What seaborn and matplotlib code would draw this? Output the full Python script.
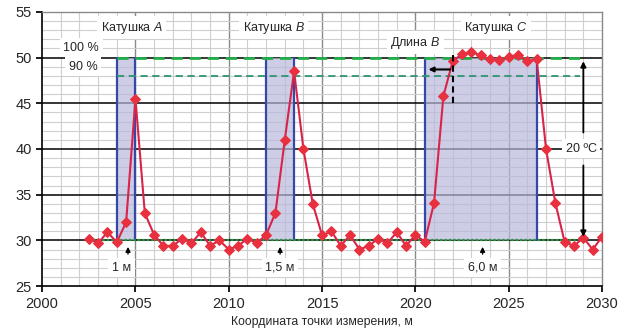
import numpy as np
import pandas as pd
import matplotlib
matplotlib.use("Agg")
import matplotlib.pyplot as plt
import seaborn as sns

# ---- data ----
positions = [2002.5 + 0.5 * i for i in range(56)]
temps = [30.2, 29.7, 30.9, 29.8, 32.0, 45.5, 33.0, 30.6, 29.4, 29.4,
         30.2, 29.7, 30.9, 29.4, 30.0, 29.0, 29.4, 30.2, 29.7, 30.6,
         33.0, 41.0, 48.5, 40.0, 34.0, 30.55, 31.0, 29.4, 30.6, 29.0,
         29.4, 30.2, 29.7, 30.9, 29.4, 30.6, 29.85, 34.1, 45.8, 49.6,
         50.4, 50.6, 50.25, 49.8, 49.7, 50.1, 50.3, 49.6, 49.8, 40.0,
         34.1, 29.8, 29.4, 30.3, 29.0, 30.4]
coil_names = ["A", "B", "C"]
coil_start = [2004.0, 2012.0, 2020.5]
coil_end = [2005.0, 2013.5, 2026.5]
coil_label_x = [2004.8, 2012.4, 2024.3]
width_labels = ["1 м", "1,5 м", "6,0 м"]
width_label_x = [2004.6, 2012.75, 2023.6]
level_100 = 50
level_90 = 48
level_base = 30

df = pd.DataFrame({"x": positions, "t": temps})

sns.set_theme(style="white")
plt.rcParams["font.family"] = ["Liberation Sans", "DejaVu Sans"]
plt.rcParams["mathtext.fontset"] = "custom"
plt.rcParams["mathtext.it"] = "Liberation Sans:italic"
plt.rcParams["mathtext.rm"] = "Liberation Sans"

fig = plt.figure(figsize=(6.2, 3.3), dpi=100)
fig.patch.set_facecolor("white")
ax = fig.add_axes([0.068, 0.133, 0.903, 0.831])

ax.set_xlim(2000, 2030)
ax.set_ylim(25, 55)

# grid
for v in range(2001, 2030):
    c = "#8a8a8a" if v % 5 == 0 else "#cfcfcf"
    ax.axvline(v, color=c, lw=1.0 if v % 5 == 0 else 0.8, zorder=0)
for v in range(26, 55):
    if v % 5 == 0:
        ax.axhline(v, color="black", lw=1.1, zorder=0.5)
    else:
        ax.axhline(v, color="#cfcfcf", lw=0.8, zorder=0)

# coil shading
for s, e in zip(coil_start, coil_end):
    ax.fill_between([s, e], level_base, level_100, color="#b8b8dc", alpha=0.7, lw=0, zorder=1)
    ax.plot([s, s], [level_base, level_100], color="#3548a8", lw=1.6, zorder=2)
    ax.plot([e, e], [level_base, level_100], color="#3548a8", lw=1.6, zorder=2)

# reference levels
ax.plot([2004.0, 2028.8], [level_100, level_100], color="#22b04a", lw=2.0, ls=(0, (4, 2.5)), zorder=3)
ax.plot([2004.0, 2028.8], [level_90, level_90], color="#2f9470", lw=1.3, ls=(0, (4, 2.5)), zorder=3)
ax.plot([2002.5, 2029.0], [level_base, level_base], color="#1f9a3a", lw=1.6, ls=(0, (1, 1)), zorder=3)

# data line
sns.lineplot(data=df, x="x", y="t", ax=ax, color="#d8244a", lw=1.5,
             marker="D", markersize=5, markerfacecolor="#e8303e",
             markeredgecolor="#e8303e", zorder=5)

# text boxes
box = dict(facecolor="white", edgecolor="none", pad=2.5)
for n, xl in zip(coil_names, coil_label_x):
    ax.text(xl, 53.25, "Катушка $\\it{" + n + "}$", ha="center", va="center", fontsize=9, bbox=box, zorder=6)
ax.text(2002.1, 51.05, "100 %", ha="center", va="center", fontsize=9, bbox=box, zorder=6)
ax.text(2002.2, 49.0, "90 %", ha="center", va="center", fontsize=9, bbox=box, zorder=6)
ax.text(2020.0, 51.6, "Длина $\\it{B}$", ha="center", va="center", fontsize=9, bbox=box, zorder=6)

for lab, xl in zip(width_labels, width_label_x):
    ax.text(xl - 0.35 if lab == "1 м" else xl, 27.0, lab, ha="center", va="center", fontsize=9, bbox=box, zorder=6)
    ax.annotate("", xy=(xl, 29.6), xytext=(xl, 28.2),
                arrowprops=dict(arrowstyle="-|>", color="black", lw=1.0, mutation_scale=7), zorder=6)

# length B marker
ax.plot([2022.0, 2022.0], [45.0, 50.5], color="black", lw=1.5, ls=(0, (3, 2)), zorder=6)
ax.annotate("", xy=(2020.55, 48.7), xytext=(2022.0, 48.7),
            arrowprops=dict(arrowstyle="-|>", color="black", lw=1.5, mutation_scale=7), zorder=6)

# 20 C arrows
ax.annotate("", xy=(2029.0, 49.9), xytext=(2029.0, 41.5),
            arrowprops=dict(arrowstyle="-|>", color="black", lw=1.3, mutation_scale=8), zorder=6)
ax.annotate("", xy=(2029.0, 30.1), xytext=(2029.0, 38.5),
            arrowprops=dict(arrowstyle="-|>", color="black", lw=1.3, mutation_scale=8), zorder=6)
ax.text(2028.9, 40.0, "20 ºC", ha="center", va="center", fontsize=9, bbox=box, zorder=7)

# axes
ax.set_xticks(range(2000, 2031, 5))
ax.set_yticks(range(25, 56, 5))
ax.tick_params(axis="both", labelsize=10.5, length=4, color="black", direction="out", left=True, bottom=True)
ax.set_xlabel("Координата точки измерения, м", fontsize=8.8)
ax.xaxis.set_label_coords(0.5, -0.108)
ax.set_ylabel("")
for side in ["left", "bottom"]:
    ax.spines[side].set_color("black")
    ax.spines[side].set_linewidth(1.2)
for side in ["top", "right"]:
    ax.spines[side].set_color("#8a8a8a")
    ax.spines[side].set_linewidth(1.0)

fig.savefig("out.png", dpi=100, facecolor="white")
